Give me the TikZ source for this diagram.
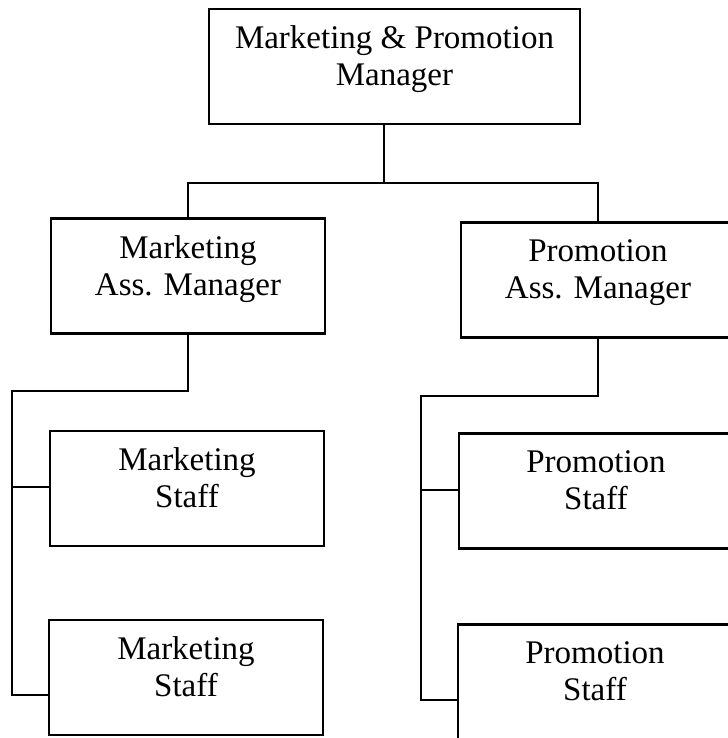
\documentclass[tikz,border=0pt]{standalone}
\usepackage{fontspec}
\setmainfont{Liberation Serif}
\usetikzlibrary{calc}

\begin{document}
\begin{tikzpicture}[x=0.3pt, y=-0.3pt,
    orgbox/.style={draw, line width=0.7pt, align=center, inner sep=0pt,
      minimum height=34.5pt, text depth=6.4pt, font=\fontsize{9.9}{11.1}\selectfont},
    headbox/.style={orgbox, minimum width=111.3pt},
    unitbox/.style={orgbox, minimum width=82.2pt},
    link/.style={line width=0.7pt}]
    \useasboundingbox (0,0) rectangle (728,738);

    % boxes
    \node[headbox] (top) at (394.5,66.5) {Marketing \& Promotion\\Manager};
    \node[unitbox] (mgrA) at (188,276) {Marketing\\Ass. Manager};
    \node[unitbox] (mgrB) at (598,280) {Promotion\\Ass. Manager};
    \node[unitbox] (staffA1) at (187,488.5) {Marketing\\Staff};
    \node[unitbox] (staffA2) at (186,677.5) {Marketing\\Staff};
    \node[unitbox] (staffB1) at (596,491) {Promotion\\Staff};
    \node[unitbox] (staffB2) at (595,682) {Promotion\\Staff};

    % branch points
    \coordinate (jn) at (384,183);
    \coordinate (busA) at (12,391);
    \coordinate (hA1) at (12,487);
    \coordinate (hA2) at (12,695);
    \coordinate (busB) at (421,396);
    \coordinate (hB1) at (421,490);
    \coordinate (hB2) at (421,700);

    % connectors
    \draw[link] (jn |- top.south) -- (jn);
    \draw[link] (mgrA.north) |- (jn) -| (mgrB.north);
    \draw[link] (mgrA.south) |- (busA) -- (hA2) -- (hA2 -| staffA2.west);
    \draw[link] (hA1) -- (hA1 -| staffA1.west);
    \draw[link] (mgrB.south) |- (busB) -- (hB2) -- (hB2 -| staffB2.west);
    \draw[link] (hB1) -- (hB1 -| staffB1.west);
\end{tikzpicture}
\end{document}
